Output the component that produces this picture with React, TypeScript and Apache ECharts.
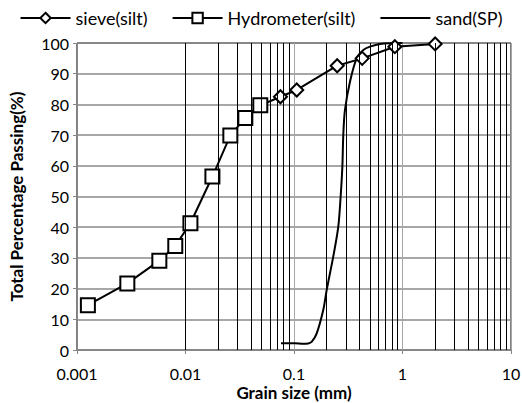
import React, { useEffect, useRef } from "react";
import * as echarts from "echarts";

const sieveX = [0.075, 0.106, 0.25, 0.425, 0.85, 2.0];
const sieveY = [82.5, 84.7, 92.6, 95.0, 98.8, 99.7];

const hydroX = [0.00126, 0.00291, 0.00574, 0.00805, 0.0111, 0.0177, 0.0259, 0.0356, 0.0489];
const hydroY = [14.6, 21.7, 29.1, 33.9, 41.3, 56.5, 69.9, 75.6, 79.7];

const sandX = [0.0759, 0.102, 0.121, 0.135, 0.146, 0.162, 0.186, 0.2, 0.23, 0.256, 0.269, 0.279, 0.285, 0.295, 0.328, 0.378, 0.436, 0.501, 0.621, 1.0];
const sandY = [2.2, 2.2, 2.0, 2.1, 2.7, 5.4, 13.0, 19.5, 30.4, 40.2, 49.9, 59.7, 70.6, 78.2, 87.4, 95.0, 97.7, 98.8, 99.7, 100];

const decades = [0.001, 0.01, 0.1, 1];
const minorMultipliers = [2, 3, 4, 5, 6, 7, 8, 9];

const FONT = "Lato, 'Open Sans', sans-serif";

export default function App() {
  const ref = useRef<HTMLDivElement>(null);
  useEffect(() => {
    if (!ref.current) return;
    const chart = echarts.init(ref.current, undefined, { renderer: "svg" });
    const minorLines: any[] = [];
    decades.forEach((d) => minorMultipliers.forEach((m) => minorLines.push({ xAxis: +(d * m).toPrecision(3) })));

    const hydroData: any[] = hydroX.map((x, i) => [x, hydroY[i]]);
    hydroData.push({ value: [sieveX[0], sieveY[0]], symbol: "none" });

    chart.setOption({
      animation: false,
      textStyle: { fontFamily: FONT },
      legend: {
        top: 4,
        left: "center",
        itemWidth: 50,
        itemHeight: 13,
        itemGap: 24,
        textStyle: { fontSize: 18, color: "#000", fontFamily: FONT },
        data: [
          { name: "sieve(silt)" },
          { name: "Hydrometer(silt)" },
          { name: "sand(SP)", itemStyle: { opacity: 0 } },
        ],
      },
      grid: {
        left: 77,
        right: 11,
        top: 43,
        bottom: 53,
        containLabel: false,
        outerBoundsMode: "none",
        show: true,
        borderColor: "#000",
        borderWidth: 1,
      },
      xAxis: {
        type: "log",
        logBase: 10,
        min: 0.001,
        max: 10,
        name: "Grain size (mm)",
        nameLocation: "middle",
        nameGap: 34,
        nameMoveOverlap: false,
        nameTextStyle: { fontSize: 17, fontWeight: "bold", color: "#000", fontFamily: FONT, lineHeight: 17 },
        axisLine: { lineStyle: { color: "#868686", width: 1 } },
        axisTick: { show: true, length: 4, lineStyle: { color: "#868686" } },
        axisLabel: {
          fontSize: 16,
          color: "#000",
          margin: 15,
          lineHeight: 17,
          formatter: (v: number) => String(+v.toPrecision(3)),
        },
        splitLine: { show: true, lineStyle: { color: "#a6a6a6", width: 1 } },
      },
      yAxis: {
        type: "value",
        min: 0,
        max: 100,
        interval: 10,
        name: "Total Percentage Passing(%)",
        nameLocation: "middle",
        nameGap: 52,
        nameTextStyle: { fontSize: 17, fontWeight: "bold", color: "#000", fontFamily: FONT },
        axisLine: { show: true, lineStyle: { color: "#868686", width: 1 } },
        axisTick: { show: true, length: 4, lineStyle: { color: "#868686" } },
        axisLabel: { fontSize: 16, color: "#000", margin: 8 },
        splitLine: { show: true, lineStyle: { color: "#8a8a8a", width: 1.5 } },
      },
      series: [
        {
          type: "line",
          name: "minor",
          data: [],
          z: 1,
          silent: true,
          markLine: {
            silent: true,
            symbol: ["none", "none"],
            label: { show: false },
            lineStyle: { color: "#000", width: 1, type: "solid" },
            emphasis: { disabled: true },
            data: minorLines,
          },
        },
        {
          type: "line",
          name: "sieve(silt)",
          data: sieveX.map((x, i) => [x, sieveY[i]]),
          symbol: "diamond",
          symbolSize: 13,
          z: 4,
          lineStyle: { color: "#000", width: 2 },
          itemStyle: { color: "#fff", borderColor: "#000", borderWidth: 2 },
        },
        {
          type: "line",
          name: "Hydrometer(silt)",
          data: hydroData,
          symbol: "rect",
          symbolSize: 14,
          z: 4,
          lineStyle: { color: "#000", width: 2 },
          itemStyle: { color: "#fff", borderColor: "#000", borderWidth: 2 },
        },
        {
          type: "line",
          name: "sand(SP)",
          data: sandX.map((x, i) => [x, sandY[i]]),
          symbol: "none",
          smooth: 0.3,
          z: 3,
          lineStyle: { color: "#000", width: 2 },
          itemStyle: { color: "#000" },
        },
      ],
    });
    return () => chart.dispose();
  }, []);
  return (
    <div
      ref={ref}
      style={{ position: "fixed", left: 0, top: 0, width: 522, height: 403, background: "#fff" }}
    />
  );
}
